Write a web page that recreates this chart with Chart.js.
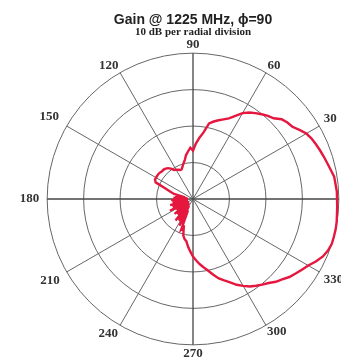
<!DOCTYPE html>
<html>
<head>
<meta charset="utf-8">
<script src="https://cdn.jsdelivr.net/npm/chart.js@4/dist/chart.umd.min.js"></script>
<style>
  html, body { margin: 0; padding: 0; background: #fff; overflow: hidden; }
  #wrap { width: 341px; height: 360px; overflow: hidden; position: relative; }
  canvas { display: block; }
</style>
</head>
<body>
<div id="wrap"><canvas id="gainChart" width="386" height="360"></canvas></div>
<script>
// angle (deg, counter-clockwise from the right) of each sample
const angles = [
  0, 3, 6, 9, 12, 15, 18, 21, 24, 27, 30, 33, 36, 39, 42, 45, 48, 51, 54, 57,
  60, 63, 66, 69, 72, 75, 78, 81, 84, 87, 90, 93, 96, 99, 102, 105, 108, 111, 114, 117,
  120, 123, 126, 129, 132, 135, 138, 141, 144, 147, 150, 153, 156, 159, 162, 165, 168, 171, 174, 177,
  180, 183, 186, 189, 192, 195, 198, 201, 204, 207, 210, 213, 216, 219, 222, 225, 228, 231, 234, 237,
  240, 243, 246, 249, 252, 255, 258, 261, 264, 267, 270, 273, 276, 279, 282, 285, 288, 291, 294, 297,
  300, 303, 306, 309, 312, 315, 318, 321, 324, 327, 330, 333, 336, 339, 342, 345, 348, 351, 354, 357
];

// gain in dB, same order as angles
const gainDb = [
  9.5, 9.5, 9.3, 9.2, 8.6, 8.1, 7.7, 7.3, 6.9, 6.5,
  5.9, 4.8, 3.7, 3.3, 2.7, 1.3, 0.7, -0.1, -0.9, -1.7,
  -2.8, -4.4, -5.8, -6.6, -7.3, -8.0, -8.8, -11.5, -13.1, -14.8,
  -16.7, -15.9, -16.9, -17.8, -19.1, -19.9, -20.7, -21.3, -21.3, -21.0,
  -20.7, -20.5, -19.7, -19.1, -18.8, -18.6, -18.6, -18.4, -18.3, -18.3,
  -18.3, -18.3, -18.8, -21.8, -23.5, -24.6, -27.8, -25.1, -28.4, -24.6,
  -28.6, -24.0, -28.4, -24.3, -28.6, -23.5, -28.1, -24.0, -28.4, -22.9,
  -27.8, -24.6, -28.6, -23.5, -27.8, -24.0, -28.4, -22.4, -27.6, -22.9,
  -27.8, -21.8, -26.7, -21.0, -21.8, -19.7, -18.8, -18.3, -16.9, -15.6,
  -14.2, -13.1, -12.0, -11.0, -9.9, -8.5, -7.1, -6.1, -5.0, -3.6,
  -2.5, -1.4, -0.6, 0.2, 1.0, 2.1, 2.9, 4.0, 4.8, 5.6,
  6.5, 7.8, 8.9, 9.6, 10.0, 10.0, 10.0, 9.9, 9.7, 9.6
];

const labelAngles = [0, 30, 60, 90, 120, 150, 180, 210, 240, 270, 300, 330];
const ringValues = [-30, -20, -10, 0, 10];

// label padding per angle, to sit the numbers like the original
const labelPad = { 0: 8, 30: 5, 60: 3, 90: 4, 120: 3, 150: 9, 180: 8, 210: 8, 240: 4, 270: 4, 300: 2, 330: 5 };

// Chart.js radar runs clockwise; reverse so angles go counter-clockwise
const n = angles.length;
const order = angles.map((a, i) => (n - i) % n);
const chartLabels = order.map(k => String(angles[k]));
const chartData = order.map(k => gainDb[k]);

const isSpoke = (idx) => labelAngles.includes(Number(chartLabels[idx]));

const ctx = document.getElementById('gainChart').getContext('2d');
new Chart(ctx, {
  type: 'radar',
  data: {
    labels: chartLabels,
    datasets: [{
      label: 'Gain',
      data: chartData,
      borderColor: '#e5173f',
      borderWidth: 2.4,
      pointRadius: 0,
      fill: false,
      tension: 0
    }]
  },
  options: {
    responsive: false,
    devicePixelRatio: 1,
    animation: false,
    layout: { padding: 0 },
    plugins: {
      legend: { display: false },
      tooltip: { enabled: false },
      title: {
        display: true,
        text: 'Gain @ 1225 MHz, \u03D5=90',
        color: '#222',
        font: { family: 'Liberation Sans', weight: 'bold', size: 14, lineHeight: 1 },
        padding: { top: 13, bottom: 0 }
      },
      subtitle: {
        display: true,
        text: '10 dB per radial division',
        color: '#222',
        font: { family: 'Liberation Serif', weight: 'bold', size: 11, lineHeight: 1 },
        padding: { top: 0, bottom: 1.4 }
      }
    },
    scales: {
      r: {
        min: ringValues[0],
        max: ringValues[ringValues.length - 1],
        startAngle: 90,
        ticks: { display: false, stepSize: 10 },
        grid: { circular: true, color: '#666', lineWidth: 1 },
        angleLines: {
          display: true,
          color: (c) => isSpoke(c.index) ? ((Number(chartLabels[c.index]) % 90 === 0) ? '#444' : '#666') : 'rgba(0,0,0,0)',
          lineWidth: (c) => isSpoke(c.index) ? ((Number(chartLabels[c.index]) % 90 === 0) ? 1.3 : 1) : 0
        },
        pointLabels: {
          display: true,
          color: '#333',
          font: { family: 'Liberation Serif', weight: 'bold', size: 13, lineHeight: 0.75 },
          padding: (c) => labelPad[Number(chartLabels[c.index])] !== undefined ? labelPad[Number(chartLabels[c.index])] : 4,
          callback: (label) => labelAngles.includes(Number(label)) ? label : ''
        }
      }
    }
  }
});
</script>
</body>
</html>
